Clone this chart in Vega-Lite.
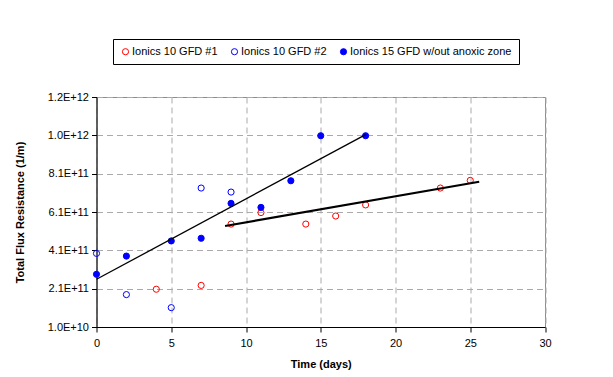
{
  "$schema": "https://vega.github.io/schema/vega-lite/v6.json",
  "width": 448.5,
  "height": 230,
  "autosize": {"type": "none"},
  "padding": {"left": 96.5, "top": 97, "right": 68, "bottom": 50},
  "background": "white",
  "config": {
    "font": "Liberation Sans",
    "view": {"stroke": "#8c8c8c", "strokeWidth": 1},
    "axis": {
      "labelFont": "Liberation Sans", "labelFontSize": 11, "labelColor": "black",
      "titleFont": "Liberation Sans", "titleFontSize": 11, "titleFontWeight": "bold", "titleColor": "black",
      "domainColor": "black", "tickColor": "black", "tickSize": 5,
      "gridColor": "#aaaaaa", "gridDash": [6, 4], "gridWidth": 1,
      "labelOverlap": false, "labelFlush": false, "labelBound": false
    },
    "legend": {
      "orient": "none", "legendX": 16.5, "legendY": -58, "direction": "horizontal",
      "strokeColor": "black", "fillColor": "white", "padding": 7,
      "labelFont": "Liberation Sans", "labelFontSize": 11, "labelColor": "black",
      "columnPadding": 11, "labelOffset": 1, "symbolStrokeWidth": 1, "labelLimit": 300
    }
  },
  "datasets": {
    "points": [
      {"series": "Ionics 10 GFD #1", "day": 4, "resistance": 2.07e11},
      {"series": "Ionics 10 GFD #1", "day": 7, "resistance": 2.27e11},
      {"series": "Ionics 10 GFD #1", "day": 9, "resistance": 5.47e11},
      {"series": "Ionics 10 GFD #1", "day": 11, "resistance": 6.07e11},
      {"series": "Ionics 10 GFD #1", "day": 14, "resistance": 5.47e11},
      {"series": "Ionics 10 GFD #1", "day": 16, "resistance": 5.89e11},
      {"series": "Ionics 10 GFD #1", "day": 18, "resistance": 6.47e11},
      {"series": "Ionics 10 GFD #1", "day": 23, "resistance": 7.35e11},
      {"series": "Ionics 10 GFD #1", "day": 25, "resistance": 7.75e11},
      {"series": "Ionics 10 GFD #2", "day": 0, "resistance": 3.94e11},
      {"series": "Ionics 10 GFD #2", "day": 2, "resistance": 1.79e11},
      {"series": "Ionics 10 GFD #2", "day": 5, "resistance": 1.11e11},
      {"series": "Ionics 10 GFD #2", "day": 7, "resistance": 7.35e11},
      {"series": "Ionics 10 GFD #2", "day": 9, "resistance": 7.14e11},
      {"series": "Ionics 15 GFD w/out anoxic zone", "day": 0, "resistance": 2.85e11},
      {"series": "Ionics 15 GFD w/out anoxic zone", "day": 2, "resistance": 3.80e11},
      {"series": "Ionics 15 GFD w/out anoxic zone", "day": 5, "resistance": 4.59e11},
      {"series": "Ionics 15 GFD w/out anoxic zone", "day": 7, "resistance": 4.73e11},
      {"series": "Ionics 15 GFD w/out anoxic zone", "day": 9, "resistance": 6.55e11},
      {"series": "Ionics 15 GFD w/out anoxic zone", "day": 11, "resistance": 6.34e11},
      {"series": "Ionics 15 GFD w/out anoxic zone", "day": 13, "resistance": 7.73e11},
      {"series": "Ionics 15 GFD w/out anoxic zone", "day": 15, "resistance": 1.008e12},
      {"series": "Ionics 15 GFD w/out anoxic zone", "day": 18, "resistance": 1.008e12}
    ],
    "trends": [
      {"trend": "15 GFD", "day": 0, "resistance": 2.59e11},
      {"trend": "15 GFD", "day": 18, "resistance": 1.014e12},
      {"trend": "10 GFD #1", "day": 8.6, "resistance": 5.37e11},
      {"trend": "10 GFD #1", "day": 25.6, "resistance": 7.68e11}
    ]
  },
  "layer": [
    {
      "data": {"name": "points"},
      "mark": {"type": "point", "shape": "circle", "strokeWidth": 1, "opacity": 1},
      "encoding": {
        "x": {
          "field": "day", "type": "quantitative",
          "scale": {"domain": [0, 30], "nice": false, "zero": false},
          "axis": {"values": [0, 5, 10, 15, 20, 25, 30], "tickCount": 20, "title": "Time (days)", "labelPadding": 5, "titlePadding": 10, "grid": true}
        },
        "y": {
          "field": "resistance", "type": "quantitative",
          "scale": {"domain": [1e10, 1.21e12], "nice": false, "zero": false},
          "axis": {
            "values": [1e10, 2.1e11, 4.1e11, 6.1e11, 8.1e11, 1.01e12, 1.21e12],
            "tickCount": 20,
            "labelExpr": "replace(format(datum.value, '.1e'), 'e', 'E')",
            "title": "Total Flux Resistance (1/m)", "titlePadding": 22, "labelPadding": 3, "grid": true
          }
        },
        "fill": {
          "field": "series", "type": "nominal",
          "scale": {"domain": ["Ionics 10 GFD #1", "Ionics 10 GFD #2", "Ionics 15 GFD w/out anoxic zone"], "range": ["transparent", "transparent", "#0000FF"]},
          "legend": {"title": null}
        },
        "stroke": {
          "field": "series", "type": "nominal",
          "scale": {"domain": ["Ionics 10 GFD #1", "Ionics 10 GFD #2", "Ionics 15 GFD w/out anoxic zone"], "range": ["#FF0000", "#0000FF", "#0000FF"]},
          "legend": {"title": null}
        },
        "size": {
          "field": "series", "type": "nominal",
          "scale": {"domain": ["Ionics 10 GFD #1", "Ionics 10 GFD #2", "Ionics 15 GFD w/out anoxic zone"], "range": [38, 38, 52]},
          "legend": {"title": null}
        }
      }
    },
    {
      "data": {"name": "trends"},
      "transform": [{"filter": "datum.trend === '15 GFD'"}],
      "mark": {"type": "line", "color": "black", "strokeWidth": 1.3},
      "encoding": {
        "x": {"field": "day", "type": "quantitative"},
        "y": {"field": "resistance", "type": "quantitative"}
      }
    },
    {
      "data": {"name": "trends"},
      "transform": [{"filter": "datum.trend === '10 GFD #1'"}],
      "mark": {"type": "line", "color": "black", "strokeWidth": 2.2},
      "encoding": {
        "x": {"field": "day", "type": "quantitative"},
        "y": {"field": "resistance", "type": "quantitative"}
      }
    }
  ]
}
